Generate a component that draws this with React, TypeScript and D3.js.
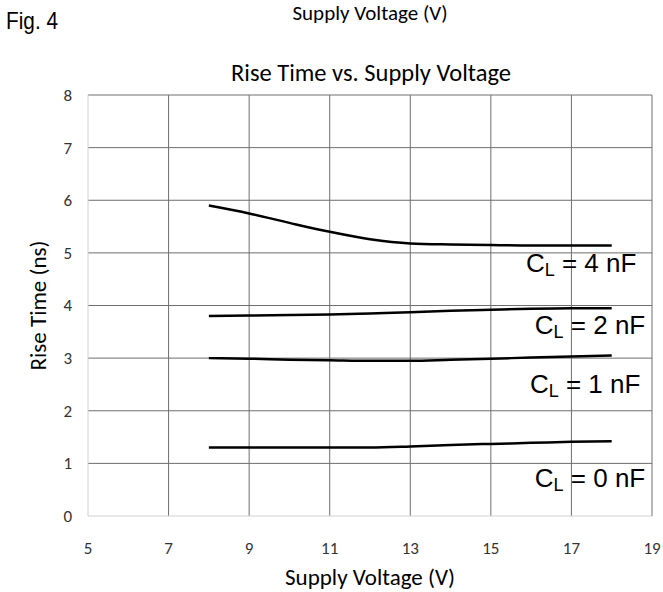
import React from "react";
import * as d3 from "d3";

const voltage = [8, 9, 10, 11, 12, 13, 14, 15, 16, 17, 18];
const cl4 = [5.9, 5.75, 5.57, 5.4, 5.26, 5.18, 5.16, 5.15, 5.14, 5.14, 5.14];
const cl2 = [3.8, 3.81, 3.82, 3.83, 3.85, 3.87, 3.9, 3.92, 3.94, 3.95, 3.95];
const cl1 = [3.0, 2.99, 2.97, 2.96, 2.95, 2.95, 2.97, 2.99, 3.01, 3.03, 3.05];
const cl0 = [1.3, 1.3, 1.3, 1.3, 1.3, 1.32, 1.35, 1.37, 1.39, 1.41, 1.42];

const seriesNames = ["4", "2", "1", "0"];
const seriesValues = [cl4, cl2, cl1, cl0];
// label anchor (voltage, rise time) for each curve's text
const labelAt = [
  [15.87, 4.64],
  [16.09, 3.46],
  [15.97, 2.34],
  [16.09, 0.55],
];

const xTicks = [5, 7, 9, 11, 13, 15, 17, 19];
const yTicks = [0, 1, 2, 3, 4, 5, 6, 7, 8];

const W = 663;
const H = 592;
const margin = { top: 95, right: 11, bottom: 76, left: 88 };

export default function App() {
  const x = d3.scaleLinear().domain([5, 19]).range([margin.left, W - margin.right]);
  const y = d3.scaleLinear().domain([0, 8]).range([H - margin.bottom, margin.top]);

  const line = d3
    .line<number>()
    .x((_d, i) => x(voltage[i]))
    .y((d) => y(d))
    .curve(d3.curveMonotoneX);

  const calibri = "Carlito, 'Open Sans', 'Noto Sans', sans-serif";
  const arial = "'Liberation Sans', Arial, sans-serif";

  return (
    <svg
      width={W}
      height={H}
      style={{ position: "absolute", left: 0, top: 0, background: "#fff" }}
    >
      <text
        x={6}
        y={29}
        fontFamily={arial}
        fontSize={24}
        textLength={52}
        lengthAdjust="spacingAndGlyphs"
        fill="#000"
      >
        Fig. 4
      </text>
      <text x={370} y={20} textAnchor="middle" fontFamily={calibri} fontSize={21} fill="#000">
        Supply Voltage (V)
      </text>
      <text x={371} y={81} textAnchor="middle" fontFamily={calibri} fontSize={24.5} fill="#000">
        Rise Time vs. Supply Voltage
      </text>

      {yTicks.map((t) => (
        <g key={"y" + t}>
          {t > 0 && (
            <line x1={x(5)} x2={x(19)} y1={y(t)} y2={y(t)} stroke="#6e6e6e" strokeWidth={1} />
          )}
          <text
            x={72}
            y={y(t)}
            dy="0.35em"
            textAnchor="end"
            fontFamily={calibri}
            fontSize={17}
            fill="#333"
          >
            {t}
          </text>
        </g>
      ))}
      {xTicks.map((t) => (
        <g key={"x" + t}>
          {t > 5 && (
            <line x1={x(t)} x2={x(t)} y1={y(0)} y2={y(8)} stroke="#6e6e6e" strokeWidth={1} />
          )}
          <text
            x={x(t)}
            y={554}
            textAnchor="middle"
            fontFamily={calibri}
            fontSize={17}
            fill="#333"
          >
            {t}
          </text>
        </g>
      ))}
      <line x1={x(5)} x2={x(5)} y1={y(0)} y2={y(8)} stroke="#d0d0d0" strokeWidth={1} />
      <line x1={x(5)} x2={x(19)} y1={y(0)} y2={y(0)} stroke="#d0d0d0" strokeWidth={1} />

      {seriesValues.map((vals, i) => (
        <path key={"s" + i} d={line(vals) ?? ""} fill="none" stroke="#000" strokeWidth={2.5} />
      ))}

      {seriesNames.map((n, i) => (
        <text
          key={"l" + i}
          x={x(labelAt[i][0])}
          y={y(labelAt[i][1])}
          fontFamily={arial}
          fontSize={26}
          fill="#000"
        >
          C<tspan fontSize={18} dy={4}>L</tspan>
          <tspan dy={-4}> = {n} nF</tspan>
        </text>
      ))}

      <text
        transform={`translate(46,${(y(0) + y(8)) / 2}) rotate(-90)`}
        textAnchor="middle"
        fontFamily={calibri}
        fontSize={23}
        fill="#000"
      >
        Rise Time (ns)
      </text>
      <text x={370} y={585} textAnchor="middle" fontFamily={calibri} fontSize={23} fill="#000">
        Supply Voltage (V)
      </text>
    </svg>
  );
}
